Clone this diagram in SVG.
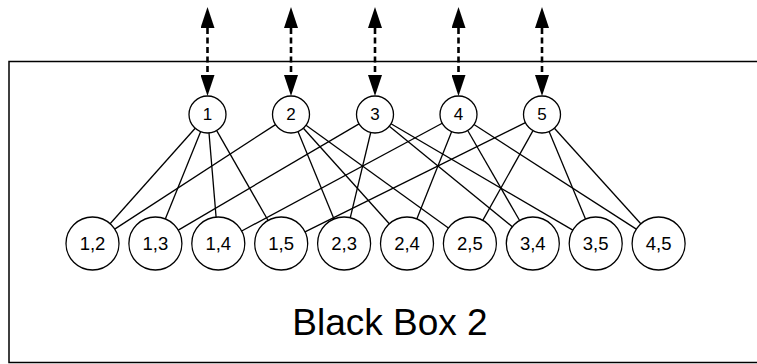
<svg xmlns="http://www.w3.org/2000/svg" width="757" height="364" viewBox="0 0 757 364">
  <style>
    .frame { fill: #fff; stroke: #000; stroke-width: 1.5; }
    .node circle { fill: #fff; stroke: #000; stroke-width: 1.3; }
    .node text { font-family: "Liberation Sans", Arial, sans-serif; fill: #000; text-anchor: middle; dominant-baseline: central; }
    .top text { font-size: 17px; }
    .pair text { font-size: 18.5px; }
    .edge { stroke: #000; stroke-width: 1.3; fill: none; }
    .io { stroke: #000; stroke-width: 2.6; stroke-dasharray: 6 3.5; fill: none; marker-start: url(#head); marker-end: url(#head); }
    .title { font-family: "Liberation Sans", Arial, sans-serif; font-size: 37px; fill: #000; text-anchor: middle; }
  </style>
  <defs>
    <marker id="head" markerUnits="userSpaceOnUse" markerWidth="21" markerHeight="14" refX="0" refY="7" orient="auto-start-reverse">
      <path d="M0,0 L21,7 L0,14 z" fill="#000"/>
    </marker>
  </defs>

  <rect class="frame" x="9" y="61.5" width="760" height="301"/>

  <!-- input/output arrows -->
  <g id="io-arrows">
    <line class="io" x1="207.5" y1="28" x2="207.5" y2="75"/>
    <line class="io" x1="291" y1="28" x2="291" y2="75"/>
    <line class="io" x1="375" y1="28" x2="375" y2="75"/>
    <line class="io" x1="458.5" y1="28" x2="458.5" y2="75"/>
    <line class="io" x1="542" y1="28" x2="542" y2="75"/>
  </g>

  <!-- connectors between single nodes and pair nodes -->
  <g id="connectors">
    <line class="edge" x1="195.2" y1="128.3" x2="110.1" y2="223.7"/>
    <line class="edge" x1="200.6" y1="131.7" x2="165.3" y2="218.9"/>
    <line class="edge" x1="209.0" y1="132.9" x2="216.1" y2="217.1"/>
    <line class="edge" x1="216.7" y1="130.6" x2="268.1" y2="220.5"/>
    <line class="edge" x1="275.5" y1="124.6" x2="114.7" y2="229.1"/>
    <line class="edge" x1="298.0" y1="131.6" x2="334.0" y2="219.0"/>
    <line class="edge" x1="303.4" y1="128.3" x2="389.3" y2="223.8"/>
    <line class="edge" x1="306.0" y1="125.3" x2="448.4" y2="228.0"/>
    <line class="edge" x1="359.0" y1="123.9" x2="178.3" y2="230.1"/>
    <line class="edge" x1="370.7" y1="132.5" x2="350.3" y2="217.7"/>
    <line class="edge" x1="389.3" y1="126.2" x2="512.3" y2="226.7"/>
    <line class="edge" x1="391.0" y1="123.8" x2="572.8" y2="230.1"/>
    <line class="edge" x1="442.2" y1="123.3" x2="241.7" y2="231.0"/>
    <line class="edge" x1="451.6" y1="131.7" x2="416.8" y2="218.9"/>
    <line class="edge" x1="467.7" y1="130.5" x2="519.6" y2="220.5"/>
    <line class="edge" x1="474.0" y1="124.5" x2="636.3" y2="229.1"/>
    <line class="edge" x1="525.4" y1="122.7" x2="305.0" y2="231.8"/>
    <line class="edge" x1="533.0" y1="130.6" x2="482.8" y2="220.4"/>
    <line class="edge" x1="549.1" y1="131.6" x2="585.5" y2="219.0"/>
    <line class="edge" x1="554.4" y1="128.2" x2="640.8" y2="223.8"/>
  </g>

  <!-- single nodes -->
  <g id="n1" class="node top"><circle cx="207.5" cy="114.5" r="18.5"/><text x="207.5" y="114.5">1</text></g>
  <g id="n2" class="node top"><circle cx="291" cy="114.5" r="18.5"/><text x="291" y="114.5">2</text></g>
  <g id="n3" class="node top"><circle cx="375" cy="114.5" r="18.5"/><text x="375" y="114.5">3</text></g>
  <g id="n4" class="node top"><circle cx="458.5" cy="114.5" r="18.5"/><text x="458.5" y="114.5">4</text></g>
  <g id="n5" class="node top"><circle cx="542" cy="114.5" r="18.5"/><text x="542" y="114.5">5</text></g>

  <!-- pair nodes -->
  <g id="p12" class="node pair"><circle cx="92.5" cy="243.5" r="26.5"/><text x="92.5" y="243.5">1,2</text></g>
  <g id="p13" class="node pair"><circle cx="155.4" cy="243.5" r="26.5"/><text x="155.4" y="243.5">1,3</text></g>
  <g id="p14" class="node pair"><circle cx="218.3" cy="243.5" r="26.5"/><text x="218.3" y="243.5">1,4</text></g>
  <g id="p15" class="node pair"><circle cx="281.2" cy="243.5" r="26.5"/><text x="281.2" y="243.5">1,5</text></g>
  <g id="p23" class="node pair"><circle cx="344.1" cy="243.5" r="26.5"/><text x="344.1" y="243.5">2,3</text></g>
  <g id="p24" class="node pair"><circle cx="407.0" cy="243.5" r="26.5"/><text x="407.0" y="243.5">2,4</text></g>
  <g id="p25" class="node pair"><circle cx="469.9" cy="243.5" r="26.5"/><text x="469.9" y="243.5">2,5</text></g>
  <g id="p34" class="node pair"><circle cx="532.8" cy="243.5" r="26.5"/><text x="532.8" y="243.5">3,4</text></g>
  <g id="p35" class="node pair"><circle cx="595.7" cy="243.5" r="26.5"/><text x="595.7" y="243.5">3,5</text></g>
  <g id="p45" class="node pair"><circle cx="658.6" cy="243.5" r="26.5"/><text x="658.6" y="243.5">4,5</text></g>

  <text class="title" x="390" y="335">Black Box 2</text>
</svg>
